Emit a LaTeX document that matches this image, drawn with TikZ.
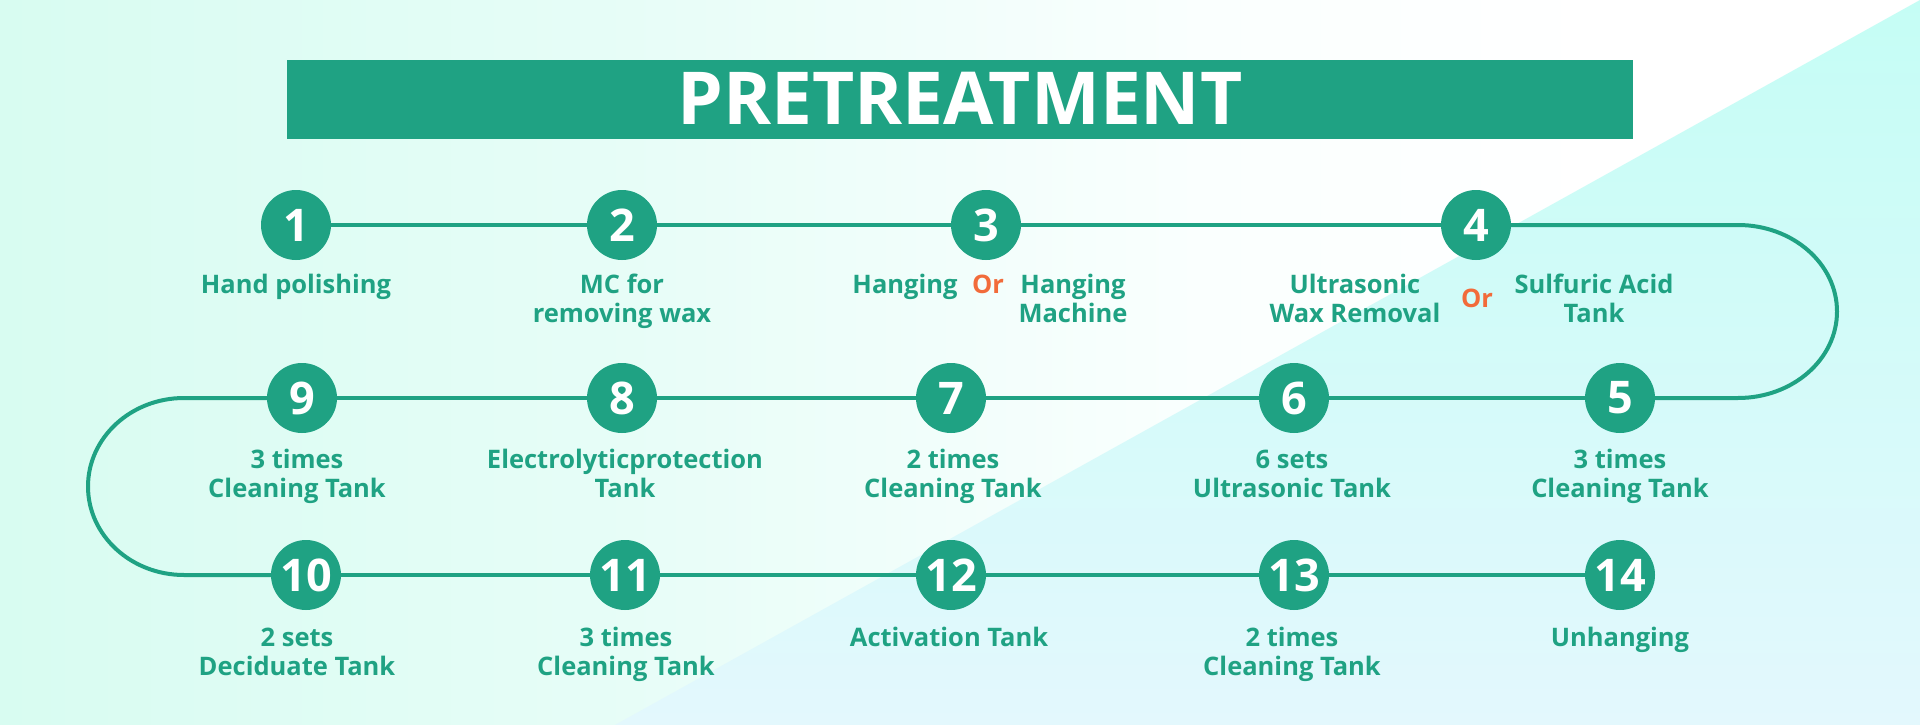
\documentclass[tikz,border=0pt]{standalone}
\usepackage{fontspec}
\setmainfont{Open Sans}
\definecolor{grn}{HTML}{1FA283}
\definecolor{org}{HTML}{F26B3A}
\definecolor{mint}{HTML}{D8FCF1}
\definecolor{mintmid}{HTML}{E6FDF7}
\definecolor{mintwhite}{HTML}{FAFFFE}
\definecolor{cyA}{HTML}{C5FDF5}
\definecolor{cyB}{HTML}{E3F8FD}
\begin{document}
\begin{tikzpicture}[x=1pt,y=-1pt,
  stepnum/.style={circle, fill=grn, minimum size=70pt, inner sep=0pt, text=white, font=\fontsize{45}{45}\selectfont\bfseries},
  lbl/.style={anchor=base, align=center, text=grn, font=\fontsize{25.5}{29}\selectfont\bfseries, inner sep=0pt},
  orlbl/.style={anchor=base, text=org, font=\fontsize{25.5}{29}\selectfont\bfseries, inner sep=0pt},
  conn/.style={draw=grn, line width=4pt}]
\useasboundingbox (0,0) rectangle (1920,725);
% background
\fill[white] (0,0) rectangle (1920,725);
\shade[left color=mint, right color=mintmid] (0,0) rectangle (601,725);
\shade[left color=mintmid, right color=mintwhite] (600,0) rectangle (1201,725);
\shade[left color=mintwhite, right color=white] (1200,0) rectangle (1600,725);
\shade[top color=cyA, bottom color=cyB] (1920,0) -- (1920,725) -- (615,725) -- cycle;
% title
\node (bar) [fill=grn, minimum width=1346pt, minimum height=79pt, inner sep=0pt] at (960,99.5) {};
\node (title) [font=\fontsize{73}{73}\selectfont\bfseries, text=white, anchor=base, inner sep=0pt] at (960,124) {PRETREATMENT};
% steps
\node[stepnum] (c1) at (296,225) {1};
\node[stepnum] (c2) at (622,225) {2};
\node[stepnum] (c3) at (986,225) {3};
\node[stepnum] (c4) at (1476,225) {4};
\node[stepnum] (c5) at (1620,398) {5};
\node[stepnum] (c6) at (1294,398) {6};
\node[stepnum] (c7) at (951,398) {7};
\node[stepnum] (c8) at (622,398) {8};
\node[stepnum] (c9) at (302,398) {9};
\node[stepnum] (c10) at (306,575) {10};
\node[stepnum] (c11) at (625,575) {11};
\node[stepnum] (c12) at (951,575) {12};
\node[stepnum] (c13) at (1294,575) {13};
\node[stepnum] (c14) at (1620,575) {14};
% turn points
\coordinate (r1) at (1738,225);
\coordinate (r2) at (1738,398);
\coordinate (l1) at (184,398);
\coordinate (l2) at (184,575);
% connectors
\draw[conn] (c1) -- (c2);
\draw[conn] (c2) -- (c3);
\draw[conn] (c3) -- (c4);
\draw[conn] (c4) -- (r1) .. controls (1792.7,225) and (1837,263.7) .. (1837,311.5) .. controls (1837,359.3) and (1792.7,398) .. (r2) -- (c5);
\draw[conn] (c5) -- (c6);
\draw[conn] (c6) -- (c7);
\draw[conn] (c7) -- (c8);
\draw[conn] (c8) -- (c9);
\draw[conn] (c9) -- (l1) .. controls (131,398) and (88,437.6) .. (88,486.5) .. controls (88,535.4) and (131,575) .. (l2) -- (c10);
\draw[conn] (c10) -- (c11);
\draw[conn] (c11) -- (c12);
\draw[conn] (c12) -- (c13);
\draw[conn] (c13) -- (c14);
% labels (two-line labels anchored at the baseline of their last line)
\node[lbl] (t1) at (296,293) {Hand polishing};
\node[lbl] (t2) at (622,322) {MC for\\removing wax};
\node[lbl] (t3a) at (905,293) {Hanging};
\node[orlbl] (o3) at (988,293) {Or};
\node[lbl] (t3b) at (1073,322) {Hanging\\Machine};
\node[lbl] (t4a) at (1355,322) {Ultrasonic\\Wax Removal};
\node[orlbl] (o4) at (1477,307) {Or};
\node[lbl] (t4b) at (1594,322) {Sulfuric Acid\\Tank};
\node[lbl] (t5) at (1620,497) {3 times\\Cleaning Tank};
\node[lbl] (t6) at (1292,497) {6 sets\\Ultrasonic Tank};
\node[lbl] (t7) at (953,497) {2 times\\Cleaning Tank};
\node[lbl] (t8) at (625,497) {Electrolyticprotection\\Tank};
\node[lbl] (t9) at (297,497) {3 times\\Cleaning Tank};
\node[lbl] (t10) at (297,675) {2 sets\\Deciduate Tank};
\node[lbl] (t11) at (626,675) {3 times\\Cleaning Tank};
\node[lbl] (t12) at (949,646) {Activation Tank};
\node[lbl] (t13) at (1292,675) {2 times\\Cleaning Tank};
\node[lbl] (t14) at (1620,646) {Unhanging};
\end{tikzpicture}
\end{document}
